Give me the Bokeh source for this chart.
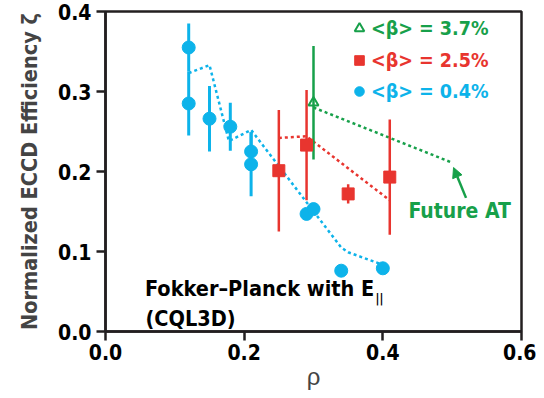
from bokeh.plotting import figure
from bokeh.models import (FixedTicker, PrintfTickFormatter, Legend, LegendItem, Label,
                          Arrow, NormalHead, ColumnDataSource)
from bokeh.embed import file_html
from bokeh.resources import INLINE

# ---- data ----
rho_low = [0.12, 0.12, 0.15, 0.18, 0.21, 0.21, 0.29, 0.30, 0.34, 0.40]
xi_low = [0.355, 0.285, 0.266, 0.256, 0.225, 0.209, 0.147, 0.153, 0.076, 0.079]
err_low = [0.030, 0.040, 0.041, 0.030, 0.024, 0.040, 0.005, 0.005, 0.007, 0.006]

rho_mid = [0.25, 0.29, 0.35, 0.41]
xi_mid = [0.201, 0.233, 0.172, 0.193]
err_mid = [0.076, 0.069, 0.012, 0.072]

rho_high = [0.30]
xi_high = [0.286]
err_high = [0.071]

cql_low_rho = [0.12, 0.15, 0.178, 0.21, 0.34, 0.35, 0.395]
cql_low_xi = [0.323, 0.333, 0.238, 0.252, 0.105, 0.099, 0.085]
cql_mid_rho = [0.25, 0.29, 0.41]
cql_mid_xi = [0.242, 0.244, 0.164]
cql_high_rho = [0.30, 0.50]
cql_high_xi = [0.280, 0.211]

x_ticks = [0.0, 0.2, 0.4, 0.6]
y_ticks = [0.0, 0.1, 0.2, 0.3, 0.4]

BLUE = "#0db3ea"
RED = "#e8352f"
GREEN = "#17a04a"
DARK = "#231f20"
FONT = "DejaVu Sans Condensed"

p = figure(width=536, height=398, x_range=(0, 0.6), y_range=(0, 0.4),
           output_backend="svg", toolbar_location=None,
           min_border_left=105, min_border_right=15, min_border_top=11, min_border_bottom=67)
p.grid.visible = False
p.outline_line_color = DARK
p.outline_line_width = 2.5
p.background_fill_color = "white"

for ax, ticks in ((p.xaxis[0], x_ticks), (p.yaxis[0], y_ticks)):
    ax.ticker = FixedTicker(ticks=ticks)
    ax.formatter = PrintfTickFormatter(format="%.1f")
    ax.axis_line_width = 2.5
    ax.axis_line_color = DARK
    ax.major_tick_line_width = 2.5
    ax.major_tick_line_color = DARK
    ax.major_tick_out = 9
    ax.major_tick_in = 0
    ax.minor_tick_out = 0
    ax.minor_tick_in = 0
    ax.major_label_text_font = FONT
    ax.major_label_text_font_style = "bold"
    ax.major_label_text_font_size = "21px"
    ax.major_label_text_color = "black"
    ax.major_label_standoff = 5

p.xaxis.major_label_standoff = 3
p.yaxis.axis_label = "Normalized ECCD Efficiency ζ"
p.yaxis.axis_label_text_font = FONT
p.yaxis.axis_label_text_font_style = "bold"
p.yaxis.axis_label_text_font_size = "21.5px"
p.yaxis.axis_label_standoff = 13
p.xaxis.axis_label = "ρ"
p.xaxis.axis_label_text_font = "Liberation Sans"
p.xaxis.axis_label_text_font_style = "normal"
p.xaxis.axis_label_text_font_size = "24px"
p.xaxis.axis_label_standoff = 0

dash = "3 3"
p.line(cql_low_rho, cql_low_xi, line_color=BLUE, line_width=2.5, line_dash=dash)
p.line(cql_mid_rho, cql_mid_xi, line_color=RED, line_width=2.5, line_dash=dash)
p.line(cql_high_rho, cql_high_xi, line_color=GREEN, line_width=2.5, line_dash=dash)


def errbars(rho, xi, err, color, width):
    src = ColumnDataSource(dict(x=rho, lo=[v - e for v, e in zip(xi, err)],
                                hi=[v + e for v, e in zip(xi, err)]))
    p.segment(x0="x", y0="lo", x1="x", y1="hi", source=src, line_color=color, line_width=width)


errbars(rho_low, xi_low, err_low, BLUE, 3)
errbars(rho_mid, xi_mid, err_mid, RED, 2.5)
errbars(rho_high, xi_high, err_high, GREEN, 2.5)

r_low = p.scatter(rho_low, xi_low, marker="circle", size=13, fill_color=BLUE, line_color=BLUE)
r_mid = p.scatter(rho_mid, xi_mid, marker="square", size=12, fill_color=RED, line_color=RED)
r_high = p.scatter(rho_high, xi_high, marker="triangle", size=10, fill_alpha=0,
                   line_color=GREEN, line_width=2)

# legends (one per series so each label has its own colour)
legend_specs = [(r_high, "<β> = 3.7%", GREEN, 290),
                (r_mid, "<β> = 2.5%", RED, 258),
                (r_low, "<β> = 0.4%", BLUE, 227)]
for rend, lab, col, ypos in legend_specs:
    lg = Legend(items=[LegendItem(label=lab, renderers=[rend])], location=(242, ypos),
                label_text_color=col, label_text_font=FONT, label_text_font_style="bold",
                label_text_font_size="19.5px", background_fill_alpha=0, border_line_alpha=0,
                padding=0, margin=0, glyph_width=24, glyph_height=26, label_standoff=0,
                spacing=0, label_height=22)
    p.add_layout(lg)

# Fokker-Planck note
fp = p.line([], [], line_color="black", line_width=2, line_dash="2 2")
lg2 = Legend(items=[LegendItem(label="Fokker–Planck with E", renderers=[fp])], location=(14, 30),
             label_text_color="black", label_text_font=FONT, label_text_font_style="bold",
             label_text_font_size="21.5px", background_fill_alpha=0, border_line_alpha=0,
             padding=0, margin=0, glyph_width=24, glyph_height=22, label_standoff=2,
             spacing=0, label_height=22)
p.add_layout(lg2)
p.add_layout(Label(x=270, y=33, x_units="screen", y_units="screen", text="||",
                   text_baseline="alphabetic",
                   text_font=FONT, text_font_style="bold", text_font_size="12px",
                   text_color="black"))
p.add_layout(Label(x=40, y=13, x_units="screen", y_units="screen", text="(CQL3D)",
                   text_baseline="alphabetic",
                   text_font=FONT, text_font_style="bold", text_font_size="21.5px",
                   text_color="black"))

# Future AT annotation
p.add_layout(Arrow(x_start=0.52, y_start=0.167, x_end=0.502, y_end=0.205,
                   line_color=GREEN, line_width=2.5,
                   end=NormalHead(size=10, fill_color=GREEN, line_color=GREEN)))
p.add_layout(Label(x=0.437, y=0.151, text="Future AT", text_font=FONT,
                   text_baseline="alphabetic",
                   text_font_style="bold", text_font_size="21px", text_color=GREEN))

open("out.html", "w").write(file_html(p, INLINE))
